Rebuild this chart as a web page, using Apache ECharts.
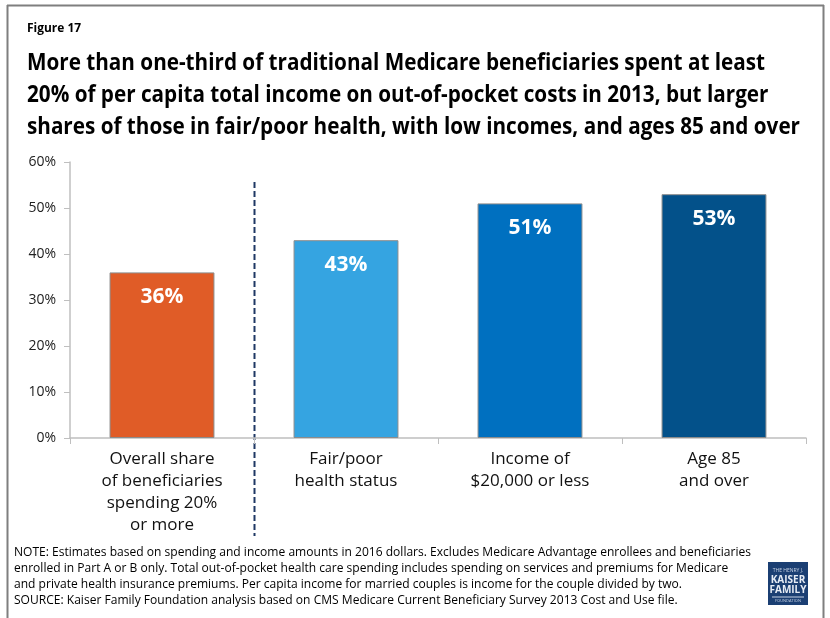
<!DOCTYPE html>
<html>
<head>
<meta charset="utf-8">
<script src="https://cdn.jsdelivr.net/npm/echarts@6/dist/echarts.min.js"></script>
<style>
  html, body { margin: 0; padding: 0; background: #fff; }
  #chart { width: 830px; height: 618px; }
</style>
</head>
<body>
<div id="chart"></div>
<script>
// Share of traditional Medicare beneficiaries spending >= 20% of income out of pocket, 2013
const categories = [
  'Overall share\nof beneficiaries\nspending 20%\nor more',
  'Fair/poor\nhealth status',
  'Income of\n$20,000 or less',
  'Age 85\nand over'
];
const shares = [36, 43, 51, 53];
const barColors = ['#E05C27', '#35A4E1', '#0070C0', '#03518A'];
const yTicks = [0, 10, 20, 30, 40, 50, 60];

const titleLines = [
  'More than one-third of traditional Medicare beneficiaries spent at least',
  '20% of per capita total income on out-of-pocket costs in 2013, but larger',
  'shares of those in fair/poor health, with low incomes, and ages 85 and over'
];
const noteLines = [
  'NOTE: Estimates based on spending and income amounts in 2016 dollars. Excludes Medicare Advantage enrollees and beneficiaries',
  'enrolled in Part A or B only. Total out-of-pocket health care spending includes spending on services and premiums for Medicare',
  'and private health insurance premiums. Per capita income for married couples is income for the couple divided by two.',
  'SOURCE: Kaiser Family Foundation analysis based on CMS Medicare Current Beneficiary Survey 2013 Cost and Use file.'
];

const FONT = '"Open Sans", "Noto Sans", sans-serif';
const TITLE_FONT = 'bold 24px ' + FONT;
const NOTE_FONT = '12.5px ' + FONT;

// horizontal squeeze so wide lines fit their text block
const measureCtx = document.createElement('canvas').getContext('2d');
function textWidth(text, font) {
  measureCtx.font = font;
  return measureCtx.measureText(text).width;
}
const titleScale = 773 / textWidth(titleLines[2], TITLE_FONT);
const noteScale = 737 / textWidth(noteLines[0], NOTE_FONT);

const chart = echarts.init(document.getElementById('chart'), null, { renderer: 'canvas' });

const option = {
  animation: false,
  backgroundColor: '#ffffff',
  textStyle: { fontFamily: FONT },
  grid: { left: 70, right: 24, top: 162, bottom: 180, containLabel: false },
  xAxis: {
    type: 'category',
    data: categories,
    axisLine: { lineStyle: { color: '#BFBFBF', width: 1.5 } },
    axisTick: { show: true, length: 6, lineStyle: { color: '#BFBFBF' } },
    axisLabel: {
      interval: 0, fontSize: 17, lineHeight: 22, color: '#111',
      fontFamily: FONT, margin: 10
    }
  },
  yAxis: {
    type: 'value',
    min: yTicks[0],
    max: yTicks[yTicks.length - 1],
    interval: 10,
    axisLine: { show: true, lineStyle: { color: '#BFBFBF', width: 1.5 } },
    axisTick: { show: true, length: 6, lineStyle: { color: '#BFBFBF' } },
    splitLine: { show: false },
    axisLabel: {
      formatter: v => v + '%', fontSize: 14, color: '#222',
      fontFamily: FONT, margin: 14
    }
  },
  series: [{
    type: 'bar',
    barWidth: '57%',
    data: shares.map((v, i) => ({
      value: v,
      itemStyle: { color: barColors[i], borderColor: '#8C8C8C', borderWidth: 1 }
    })),
    label: {
      show: true,
      position: 'insideTop',
      distance: 14,
      formatter: p => p.value + '%',
      color: '#fff',
      fontSize: 21,
      fontWeight: 'bold',
      fontFamily: FONT
    }
  }],
  graphic: []
};

chart.setOption(option);

// Dashed separator between the overall share and the subgroups
const c0 = chart.convertToPixel({ xAxisIndex: 0 }, 0);
const c1 = chart.convertToPixel({ xAxisIndex: 0 }, 1);
const sepX = Math.round((c0 + c1) / 2) + 0.5;
const top60 = chart.convertToPixel({ yAxisIndex: 0 }, 60);

const graphics = [
  // outer frame
  { type: 'line', shape: { x1: 7.5, y1: 5, x2: 7.5, y2: 618 }, style: { stroke: '#7F7F7F', lineWidth: 2 } },
  { type: 'line', shape: { x1: 7, y1: 5.5, x2: 824, y2: 5.5 }, style: { stroke: '#7F7F7F', lineWidth: 2 } },
  { type: 'line', shape: { x1: 823.5, y1: 5, x2: 823.5, y2: 618 }, style: { stroke: '#7F7F7F', lineWidth: 2 } },
  { type: 'text', x: 27, y: 28, scaleX: 0.92,
    style: { text: 'Figure 17', font: 'bold 13px ' + FONT, fill: '#000', verticalAlign: 'middle' } },
  { type: 'line', shape: { x1: sepX, y1: top60 + 20, x2: sepX, y2: 536 },
    style: { stroke: '#1F3864', lineWidth: 2, lineDash: [6, 3] } }
];
titleLines.forEach((t, i) => {
  graphics.push({ type: 'text', x: 27, y: 63 + i * 32, scaleX: titleScale,
    style: { text: t, font: TITLE_FONT, fill: '#000', verticalAlign: 'middle' } });
});
noteLines.forEach((t, i) => {
  graphics.push({ type: 'text', x: 14, y: 552 + i * 16.3, scaleX: noteScale,
    style: { text: t, font: NOTE_FONT, fill: '#000', verticalAlign: 'middle' } });
});
// foundation logo block
graphics.push({ type: 'rect', shape: { x: 768, y: 562, width: 40, height: 43 }, style: { fill: '#1B3F73' } });
graphics.push({ type: 'text', x: 788, y: 568, style: { text: 'THE HENRY J.', font: '5px ' + FONT, fill: '#C9D4E6', align: 'center' } });
graphics.push({ type: 'text', x: 788, y: 575, style: { text: 'KAISER', font: 'bold 10px ' + FONT, fill: '#E6ECF5', align: 'center' } });
graphics.push({ type: 'text', x: 788, y: 585, style: { text: 'FAMILY', font: 'bold 10px ' + FONT, fill: '#E6ECF5', align: 'center' } });
graphics.push({ type: 'line', shape: { x1: 772, y1: 597, x2: 804, y2: 597 }, style: { stroke: '#C9D4E6', lineWidth: 1 } });
graphics.push({ type: 'text', x: 788, y: 599, style: { text: 'FOUNDATION', font: '4px ' + FONT, fill: '#C9D4E6', align: 'center' } });

chart.setOption({ graphic: graphics });
</script>
</body>
</html>
